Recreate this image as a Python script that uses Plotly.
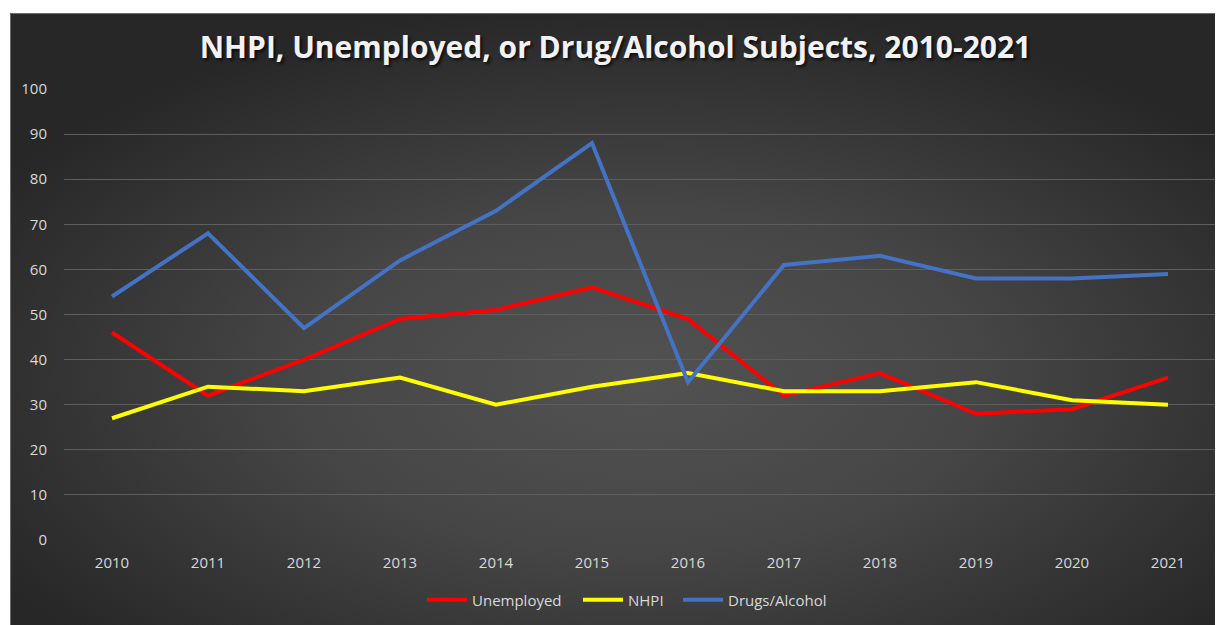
import base64
import plotly.graph_objects as go

years = ["2010", "2011", "2012", "2013", "2014", "2015", "2016", "2017", "2018", "2019", "2020", "2021"]
unemployed = [46, 32, 40, 49, 51, 56, 49, 32, 37, 28, 29, 36]
nhpi = [27, 34, 33, 36, 30, 34, 37, 33, 33, 35, 31, 30]
drugs_alcohol = [54, 68, 47, 62, 73, 88, 35, 61, 63, 58, 58, 59]
y_ticks = [0, 10, 20, 30, 40, 50, 60, 70, 80, 90, 100]

# page body has an 8px margin; size the figure to fill the rest of the window
OFF = 8
W, H = 1223 - OFF, 625 - OFF
L, R, T, B = 64 - OFF, 7, 89 - OFF, 85
pw, ph = W - L - R, H - T - B
DX, DY = 10 - OFF, 13 - OFF  # start of dark chart area inside the figure

svg = f'''<svg xmlns="http://www.w3.org/2000/svg" width="1213" height="612" viewBox="0 0 1213 612" preserveAspectRatio="none">
<defs><radialGradient id="g" cx="52%" cy="60%" r="62%">
<stop offset="0" stop-color="#525252"/><stop offset="0.45" stop-color="#464646"/><stop offset="1" stop-color="#272727"/></radialGradient></defs>
<rect x="0" y="0" width="1213" height="612" fill="url(#g)"/>
<path d="M0.5 612 L0.5 0.5 L1213 0.5" stroke="#6a6a6a" stroke-width="1" fill="none"/>
</svg>'''
src = "data:image/svg+xml;base64," + base64.b64encode(svg.encode()).decode()

fig = go.Figure()
series = [("Unemployed", unemployed, "#ff0000", "legend", 427),
          ("NHPI", nhpi, "#ffff00", "legend2", 583),
          ("Drugs/Alcohol", drugs_alcohol, "#4472c4", "legend3", 683)]
legend_y = (H - B - (600 - OFF)) / ph
legends = {}
for name, vals, col, lg, px in series:
    fig.add_trace(go.Scatter(x=years, y=vals, name=name, mode="lines", legend=lg,
                             line=dict(color=col, width=4)))
    legends[lg] = dict(orientation="h", x=(px - 5 - OFF - L) / pw, xanchor="left",
                       y=legend_y, yanchor="middle",
                       font=dict(family="Open Sans", size=15, color="#d9d9d9"),
                       bgcolor="rgba(0,0,0,0)", itemwidth=40)

fig.update_layout(
    width=W, height=H,
    margin=dict(l=L, r=R, t=T, b=B),
    paper_bgcolor="white",
    plot_bgcolor="rgba(0,0,0,0)",
    images=[dict(source=src, xref="paper", yref="paper",
                 x=(DX - L) / pw, y=(H - B - DY) / ph,
                 sizex=(W - DX) / pw, sizey=(H - DY) / ph,
                 xanchor="left", yanchor="top", sizing="stretch", layer="below")],
    title=dict(text="NHPI, Unemployed, or Drug/Alcohol Subjects, 2010-2021",
               x=0.5, xref="container", xanchor="center",
               y=1 - (47 - OFF) / H, yref="container", yanchor="middle",
               font=dict(family="Open Sans", size=30, color="#f2f2f2", weight="bold",
                         shadow="2px 2px 3px rgba(0,0,0,0.7)")),
    xaxis=dict(type="category", range=[-0.5, 11.5], showgrid=False, zeroline=False,
               showline=False, ticks="", ticklabelstandoff=12,
               tickfont=dict(family="Open Sans", size=15, color="#d9d9d9")),
    yaxis=dict(range=[0, 100], tickvals=y_ticks, showgrid=True, gridcolor="#5e5e5e",
               gridwidth=1, zeroline=False, showline=False, ticks="",
               ticklabelstandoff=16,
               tickfont=dict(family="Open Sans", size=15, color="#d9d9d9")),
    showlegend=True,
    **legends,
)

fig.write_html("out.html")
